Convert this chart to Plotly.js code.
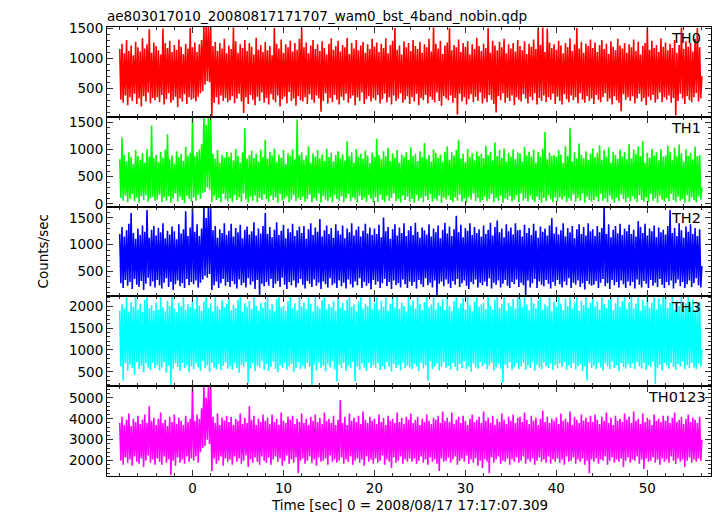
<!DOCTYPE html>
<html>
<head>
<meta charset="utf-8">
<script src="https://cdn.plot.ly/plotly-3.0.1.min.js"></script>
<style>html,body{margin:0;padding:0;background:#fff;}#chart{width:717px;height:516px;}</style>
</head>
<body>
<div id="chart"></div>
<script>
// Time bins: start and bin width (seconds); one value per bin below
const tStart = -8;
const tStep = 0.125;

const th0 = [
 1150,310,1240,260,1080,380,1300,220,1120,350,1210,290,1050,410,1270,240,1180,330,1110,200,1330,370,1160,280,1230,430,1480,250,1090,340,1260,300,
 1200,350,1130,270,1060,390,1490,230,1250,320,1170,420,1290,260,1100,300,1220,360,1140,190,1310,330,1190,280,1070,400,1240,240,1160,350,1500,310,
 1180,330,1260,280,1100,360,1230,420,1300,450,1540,560,1540,620,1540,600,1540,40,1200,260,1270,350,1120,230,1250,380,1160,290,1320,340,1080,270,
 1210,300,1150,370,1510,250,1280,330,1090,410,1230,280,1170,90,1300,350,1120,240,1250,390,1190,310,1060,220,1340,360,1140,290,1220,430,1100,260,
 1270,340,1130,230,1200,400,1050,310,1500,270,1240,380,1160,200,1310,320,1090,360,1230,250,1180,440,1290,290,1110,330,1250,210,1140,370,1320,300,
 1510,280,1180,350,1260,240,1080,400,1210,310,1300,260,1150,380,1230,330,1120,110,1280,290,1170,420,1060,250,1240,340,1330,270,1140,390,1200,310,
 1290,230,1110,360,1220,300,1180,410,1340,260,1070,330,1250,380,1160,220,1300,350,1130,290,1210,430,1270,240,1090,320,1230,370,1150,280,1320,340,
 1190,300,1260,390,1100,250,1240,320,1170,410,1330,270,1080,350,1220,230,1290,380,1500,290,1140,330,1210,420,1060,260,1280,310,1180,370,1250,240,
 1120,350,1300,280,1200,410,1150,220,1270,340,1090,300,1230,390,1180,250,1320,360,1110,310,1510,270,1240,430,1160,290,1290,210,1070,370,1210,330,
 1260,300,1500,380,1130,260,1220,340,1180,60,1310,410,1100,280,1250,350,1190,230,1280,320,1060,400,1230,270,1150,360,1340,290,1200,430,1120,250,
 1240,330,1170,270,1500,390,1090,310,1290,240,1210,100,1130,370,1270,300,1180,420,1320,260,1080,340,1230,290,1160,380,1250,220,1110,350,1300,310,
 1200,280,1130,400,1280,330,1070,250,1240,360,1190,300,1310,420,1150,230,1500,340,1220,290,1510,380,1100,270,1490,350,1260,310,1170,410,1230,240,
 1140,360,1290,290,1210,230,1080,400,1250,320,1180,270,1330,380,1120,300,1230,350,1500,250,1160,420,1270,310,1090,260,1240,370,1200,290,1310,330,
 1170,240,1260,390,1100,310,1220,270,1300,350,1150,420,1240,280,1070,330,1280,230,1190,370,1130,300,1320,260,1210,120,1160,400,1250,310,1090,350,
 1230,290,1180,370,1310,250,1120,330,1270,410,1060,280,1200,340,1250,220,1500,360,1140,300,1290,390,1170,260,1220,320,1100,430,1330,270,1190,350,
 1260,310,1130,380,1240,260,1170,340,1300,50,1090,290,1220,410,1510,330,1150,240,1280,370,1190,300,1250,270,1110,350,1320,420,1500,280,1180,330,
 700
];

const th1 = [
 820,110,1220,60,900,150,780,30,950,90,860,180,740,50,990,120,880,20,810,140,930,70,760,160,1010,40,870,100,1440,130,840,60,
 900,80,770,170,960,30,850,120,1000,60,1280,140,820,20,890,100,740,190,970,50,860,130,920,70,790,10,1050,150,880,90,940,40,
 1620,120,880,60,950,170,1000,90,1100,200,1620,220,1450,300,1620,260,1620,40,920,140,830,70,990,110,760,30,900,180,850,80,960,50,
 870,100,940,30,800,160,1010,70,880,120,760,40,950,190,1390,80,830,20,900,130,980,60,850,150,920,30,780,110,1000,70,860,170,
 1180,90,830,40,960,150,890,70,1020,120,770,20,910,180,850,60,990,100,740,140,930,30,880,80,1000,160,820,50,1550,110,900,70,
 950,130,810,40,890,90,1060,170,760,30,930,110,870,60,990,190,840,20,910,140,790,80,1020,50,860,120,940,30,780,160,900,90,
 970,60,840,140,910,30,800,100,1150,180,880,50,950,120,760,80,1010,20,870,150,920,70,830,110,980,40,890,160,750,90,940,30,
 860,120,1200,40,900,170,820,80,970,30,880,140,1030,60,790,110,930,190,850,50,990,90,760,20,910,150,870,70,950,130,810,40,
 1040,90,880,20,920,160,790,60,970,110,860,30,1120,140,830,70,900,180,780,40,1000,100,940,60,850,150,910,20,770,120,960,80,
 1060,150,810,70,950,30,890,120,990,60,1180,170,840,40,920,100,770,20,1010,130,860,80,930,190,800,50,970,110,880,30,920,70,
 840,130,1070,50,900,90,960,180,800,30,1130,110,880,60,990,150,850,20,1020,100,780,70,940,140,870,40,1000,80,820,160,950,30,
 930,190,780,60,1050,100,890,40,960,150,870,80,1000,30,760,130,960,70,870,20,1010,110,1320,50,820,160,940,90,880,30,900,120,
 860,50,990,120,910,80,750,140,1060,30,880,100,1400,60,780,170,950,40,830,110,1110,60,900,190,840,20,970,130,810,70,920,40,
 1020,70,860,130,940,40,1080,190,810,60,990,100,870,30,1040,150,760,80,960,20,900,120,830,50,1000,170,870,90,960,30,820,110,
 1100,50,830,140,1000,90,920,30,1060,160,880,70,1150,40,760,120,940,30,850,180,1010,60,890,100,950,20,800,150,1010,80,870,40,
 890,110,1070,50,960,180,810,70,1030,30,870,130,1090,60,930,90,780,20,1000,160,880,40,940,120,820,70,1050,30,880,140,900,80,
 300
];

const th2 = [
 1200,280,1330,190,1150,340,1270,230,1390,300,1590,170,1220,360,1110,250,1300,210,1180,320,1360,150,1240,270,1650,380,1130,220,1280,310,1350,200,
 1170,340,1310,240,1230,180,1400,290,1120,370,1260,210,1190,300,1340,150,1250,260,1100,330,1380,220,1210,280,1290,190,1625,360,1160,240,1320,300,
 1730,260,1240,330,1380,200,1160,290,1300,350,1730,420,1500,380,1730,450,1680,150,1270,240,1350,310,1130,190,1290,280,1220,360,1400,230,1180,300,
 1260,210,1390,320,1150,260,1310,180,1230,350,1370,240,1120,290,1280,200,1340,370,1190,250,1250,310,1420,170,1170,340,1300,60,1210,270,1350,220,
 1590,300,1200,230,1330,360,1140,190,1280,270,1420,320,1180,210,1260,380,1370,250,1120,170,1300,300,1230,240,1390,330,1160,200,1270,280,1340,360,
 1220,250,1350,180,1110,320,1290,270,1400,210,1180,350,1320,230,1240,290,1480,170,1150,310,1270,260,1360,200,1200,370,1310,240,1130,280,1380,190,
 1260,330,1190,220,1360,290,1120,180,1300,350,1230,260,1400,200,1170,310,1280,240,1340,370,1150,190,1260,300,1390,230,1210,280,1320,160,1180,340,
 1300,250,1200,310,1370,190,1140,280,1510,360,1250,220,1330,300,1110,170,1290,330,1380,240,1170,280,1320,200,1220,350,1400,260,1160,190,1270,310,
 1350,230,1180,300,1410,180,1240,340,1130,260,1320,210,1270,370,1190,240,1380,290,1150,200,1300,330,1230,60,1360,270,1120,310,1280,220,1410,350,
 1210,270,1340,190,1160,320,1290,250,1540,360,1230,210,1370,280,1140,330,1310,230,1260,170,1400,300,1180,260,1330,350,1220,200,1290,290,1150,240,
 1360,310,1200,220,1280,370,1410,180,1170,290,1330,250,1450,330,1230,200,1300,270,1140,340,1380,230,1250,190,1320,300,1190,260,1400,350,1270,210,
 1280,290,1150,240,1370,60,1220,330,1310,200,1180,280,1390,360,1260,190,1130,310,1340,250,1240,220,1300,340,1170,270,1360,180,1500,300,1210,230,
 1330,340,1190,260,1270,200,1400,310,1150,240,1310,370,1230,190,1350,290,1120,250,1290,330,1380,210,1200,280,1330,160,1170,320,1400,260,1250,230,
 1290,250,1160,320,1350,190,1230,290,1310,360,1730,220,1200,280,1380,170,1140,340,1280,240,1350,300,1210,200,1390,330,1180,260,1300,190,1250,310,
 1370,230,1200,300,1280,180,1150,350,1440,250,1330,200,1220,320,1390,270,1170,190,1300,340,1250,230,1360,290,1140,210,1320,360,1230,250,1280,190,
 1190,300,1350,240,1650,330,1220,180,1310,280,1160,350,1400,220,1270,300,1130,190,1340,260,1240,330,1380,210,1200,280,1310,370,1160,240,1290,200,
 600
];

const th3 = [
 1900,620,2050,300,1950,700,2240,520,1880,660,2100,580,1990,430,2240,720,1920,560,2060,640,1870,490,2150,690,2240,600,1960,540,2030,710,1900,580,
 2080,650,1930,530,2240,600,1980,720,1890,480,2120,640,2010,200,2240,570,1950,690,1870,610,2090,520,2000,700,2240,580,1920,650,2050,490,1980,620,
 2170,560,1940,690,2240,610,2020,520,1900,740,2110,580,2240,650,1960,500,2070,700,1890,600,2240,560,2000,680,1930,530,2140,640,1980,710,2060,570,
 2240,620,1910,540,2030,700,1960,590,2150,480,2240,660,1880,610,2070,720,1990,250,2120,570,1940,690,2240,520,2010,640,1900,600,2080,740,1970,550,
 2100,680,2240,520,1930,610,2050,730,1890,570,2160,490,2240,650,1980,600,2020,710,1900,540,2130,620,2240,680,1950,500,2070,590,1910,720,2240,560,
 2000,640,2090,570,1940,700,2200,610,2060,200,1890,660,2240,530,2010,720,1950,590,2140,640,2240,510,1920,680,2050,600,1980,740,2120,550,1900,280,
 2240,660,1970,580,2080,710,1910,520,2150,640,2240,590,1990,730,2040,280,1880,620,2110,550,2240,690,1950,600,2060,520,2000,710,2240,580,1930,650,
 2070,590,2240,700,1920,540,2130,630,1990,560,2240,720,1900,610,2050,500,2180,680,1970,590,2240,650,1940,530,2090,710,2010,580,1890,640,2240,600,
 2020,560,2140,690,1950,620,2240,510,2060,700,1910,580,2100,650,2240,300,1980,740,2040,560,2240,620,1930,690,2080,530,2000,610,2160,720,1920,580,
 2240,640,2010,550,1900,700,2120,610,2240,520,1960,680,2070,590,2190,740,1930,560,2240,630,2030,500,1890,690,2110,600,2240,570,1990,720,2050,620,
 2080,680,1940,560,2240,640,2010,710,1920,530,2150,600,2240,690,1970,570,2060,250,2240,660,1900,580,2090,720,2000,540,2170,610,1950,700,2240,560,
 2170,620,1980,700,2240,550,2040,640,1910,590,2240,730,2070,520,1960,660,2130,600,2240,560,1930,710,2050,630,2000,580,2240,690,1890,540,2110,650,
 1990,580,2240,690,2060,610,1920,720,2180,540,2010,650,2240,590,1950,700,2090,560,2240,630,1900,680,2130,520,2030,620,2240,300,1970,710,2080,590,
 2240,640,2000,560,2110,700,1930,600,2240,530,2050,690,1960,620,2150,560,2240,730,1910,590,2070,650,2240,510,1990,700,2120,610,2240,570,1940,680,
 2100,600,2240,690,1950,560,2060,720,2240,620,1900,580,2140,700,2020,540,2240,650,1970,610,2090,730,2240,220,1930,590,2180,660,2040,530,2240,700,
 2240,640,1960,570,2080,700,2240,610,1920,540,2130,680,2010,620,2240,730,1950,560,2070,650,2240,590,1990,700,2160,600,1900,560,2040,690,2100,620,
 1000
];

const th0123 = [
 3800,2000,4100,1800,3700,2150,3950,1900,4250,2050,3650,1750,4000,2200,3850,1950,4150,1850,3750,2100,3950,1700,4200,2000,3800,2250,4600,1900,3900,2050,4050,1800,
 3700,2100,4000,1950,4300,1800,3800,2200,3950,1900,3650,2050,4100,1300,3850,2000,4200,1750,3750,2150,4050,1900,3900,2050,3700,1850,4150,2200,3850,1950,4000,2100,
 5600,2000,3900,2200,4200,1900,4000,2400,4500,2600,5600,2700,5000,3000,5600,2800,5600,1500,4100,2100,3800,1850,4250,2000,3700,2200,4050,1750,3900,2100,4150,1950,
 3850,2050,4100,1800,3700,2200,4000,1950,3900,2100,4250,1850,3750,2000,4050,2250,3800,1700,4600,2050,3950,1900,4150,2150,3700,1950,4000,1800,3850,2200,4200,2000,
 3900,1900,4050,2150,3750,1800,4200,2050,3850,2200,4000,1950,3700,2100,4300,1750,3900,2000,3800,2250,4100,1850,3950,2050,4150,1900,3750,2150,4000,1400,3850,2000,
 4250,2100,3800,1850,4000,2000,3700,2200,4100,1900,3900,2050,4200,1750,3850,2150,4050,1950,3750,2000,4300,2100,3900,1800,4000,2250,3800,1950,4150,2050,3700,1900,
 3950,2000,4900,2150,3800,1850,4100,2050,3700,1950,4250,2200,3900,1800,4050,2000,3850,2100,4150,1900,3750,2050,4350,1750,3950,2200,3800,1950,4100,2050,3900,1850,
 4000,2100,3750,1900,4200,2000,3850,2250,4050,1800,3700,2050,4150,1950,3900,1650,4000,2150,3800,1900,4300,2000,3850,2200,4050,1850,3750,2050,4100,1950,3950,2100,
 4250,1950,3800,2100,3950,1850,4100,2000,3700,2200,4000,1900,3850,2050,4200,1800,3900,2150,3750,1950,4050,2050,3950,1850,4150,1500,3800,2100,4350,1950,3900,2000,
 4050,2150,3850,1900,4300,2050,3750,2200,3950,1800,4100,2000,3800,2100,4150,1950,3900,2250,3700,1850,4000,2050,4200,1900,3850,2100,3950,1750,4100,2000,3800,1650,
 4350,2050,3900,1950,4050,1400,3800,2150,4150,1900,3700,2050,4000,2200,3850,1850,4250,2000,3950,1950,3750,2100,4100,1800,3900,2050,4200,1950,3800,2150,4050,1900,
 4100,2000,3850,2200,4300,1850,3950,2050,3750,1950,4150,2100,3900,1800,4050,2000,3700,2150,4000,1950,4400,2050,3850,1900,4100,2200,3800,1850,4000,2050,3900,1950,
 4050,2100,3750,1900,4250,2050,3900,1800,4000,2200,3850,1950,4350,2000,3700,2150,4100,1850,3950,2050,3800,1950,4200,2100,3900,1800,4050,2000,3850,1400,4150,2050,
 3850,1950,4200,2100,3950,1850,3750,2050,4100,2000,3900,2200,4300,1800,3800,2000,4050,2150,3700,1900,4150,2050,3900,1950,4000,2100,3850,1700,4250,2000,3950,2150,
 4100,1900,3800,2050,4350,2000,3900,2200,4000,1850,3750,2050,4250,1600,3850,2100,4050,1950,3950,2000,3700,2150,4200,1900,3900,2050,4000,1800,3850,2100,4150,1950,
 3900,2050,4150,1900,3800,2200,4050,2000,4300,1850,3850,2100,3950,1950,4100,2050,3750,1700,4000,2000,4200,2150,3850,1900,4050,2050,3950,1950,3800,2100,4100,2000,
 3000
];

const panelNames = ['TH0', 'TH1', 'TH2', 'TH3', 'TH0123'];
const panelColors = ['#ff0000', '#00ff00', '#0000ff', '#00ffff', '#ff00ff'];
const panelRanges = [[27, 1517], [-50, 1602], [32, 1712], [170, 2228], [1264, 5558]];
const panelDticks = [500, 500, 500, 500, 1000];
const panelMinor = [100, 100, 100, 100, 200];
const series = [th0, th1, th2, th3, th0123];

const time = th0.map((_, i) => tStart + i * tStep);

const axisSuffix = ['5', '4', '3', '2', ''];
const traces = series.map((s, k) => ({
  x: time, y: s, type: 'scatter', mode: 'lines',
  xaxis: 'x' + axisSuffix[k], yaxis: 'y' + axisSuffix[k],
  line: {color: panelColors[k], width: 1.6, simplify: false},
  hoverinfo: 'skip'
}));

const tickCol = '#333';
const baseX = {
  range: [-9.4, 57.0], tick0: 0, dtick: 10,
  showline: true, linecolor: 'black', linewidth: 1, mirror: 'ticks',
  ticks: 'inside', ticklen: 6, tickwidth: 1, tickcolor: tickCol,
  showgrid: false, zeroline: false,
  minor: {ticks: 'inside', ticklen: 3, dtick: 2, tick0: 0, tickcolor: tickCol, showgrid: false},
  tickfont: {family: 'DejaVu Sans', size: 13.5, color: 'black'}
};

const layout = {
  width: 717, height: 516,
  margin: {l: 107, r: 6, t: 27, b: 40},
  paper_bgcolor: 'white', plot_bgcolor: 'white',
  showlegend: false,
  font: {family: 'DejaVu Sans', size: 13.5, color: 'black'},
  title: {
    text: 'ae803017010_20080817171707_wam0_bst_4band_nobin.qdp',
    xref: 'paper', x: 0, xanchor: 'left',
    yref: 'container', y: 0.969, yanchor: 'middle',
    font: {family: 'DejaVu Sans', size: 13.5, color: 'black'}
  },
  annotations: []
};

for (let k = 0; k < 5; k++) {
  const sfx = axisSuffix[k];
  const lo = 0.2 * (4 - k), hi = lo + 0.2;
  const xa = Object.assign({}, baseX, {anchor: 'y' + sfx, showticklabels: k === 4});
  if (k !== 4) xa.matches = 'x';
  layout['xaxis' + sfx] = xa;
  layout['yaxis' + sfx] = {
    domain: [lo, hi], anchor: 'x' + sfx, range: panelRanges[k],
    tick0: 0, dtick: panelDticks[k],
    showline: true, linecolor: 'black', linewidth: 1, mirror: 'ticks',
    ticks: 'inside', ticklen: 6, tickwidth: 1, tickcolor: tickCol,
    showgrid: false, zeroline: false,
    minor: {ticks: 'inside', ticklen: 3, dtick: panelMinor[k], tick0: 0, tickcolor: tickCol, showgrid: false},
    tickfont: {family: 'DejaVu Sans', size: 13.5, color: 'black'}
  };
  layout.annotations.push({
    text: panelNames[k], xref: 'paper', yref: 'paper',
    x: k === 4 ? 0.995 : 0.987, y: hi - 0.0245, xanchor: 'right', yanchor: 'middle',
    showarrow: false, font: {family: 'DejaVu Sans', size: 14.5, color: 'black'}
  });
}

layout.annotations.push({
  text: 'Counts/sec', xref: 'paper', yref: 'paper', x: -0.1076, y: 0.5,
  xanchor: 'center', yanchor: 'middle', textangle: -90, showarrow: false,
  font: {family: 'DejaVu Sans', size: 13.5, color: 'black'}
});
layout.annotations.push({
  text: 'Time [sec] 0 = 2008/08/17 17:17:07.309', xref: 'paper', yref: 'paper',
  x: 0.5, y: -0.0646, xanchor: 'center', yanchor: 'middle', showarrow: false,
  font: {family: 'DejaVu Sans', size: 13.5, color: 'black'}
});

Plotly.newPlot('chart', traces, layout, {displayModeBar: false, staticPlot: true});
</script>
</body>
</html>
